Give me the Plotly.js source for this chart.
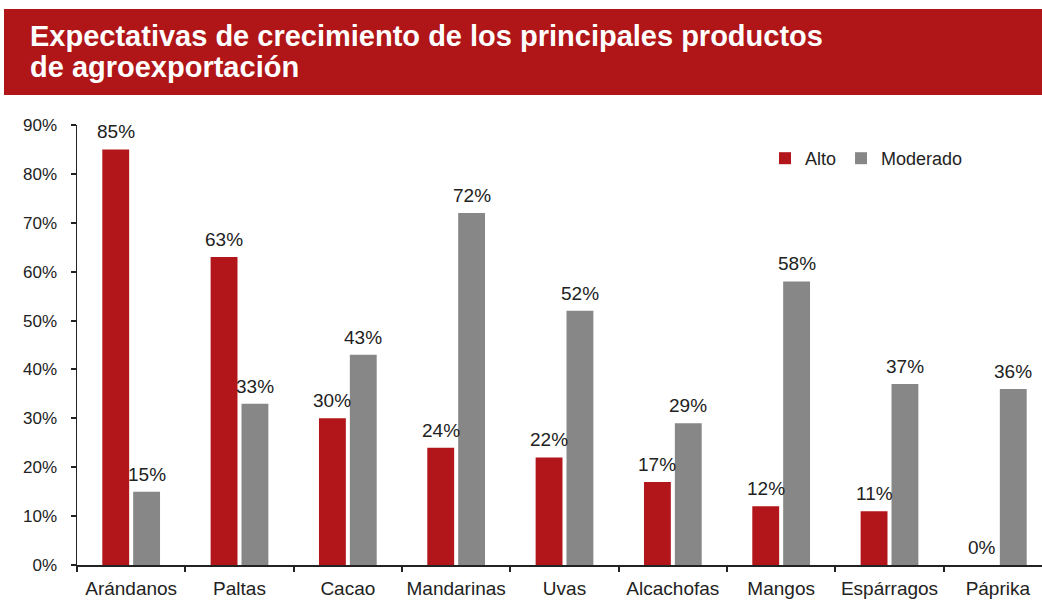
<!DOCTYPE html>
<html>
<head>
<meta charset="utf-8">
<script src="https://cdn.plot.ly/plotly-3.0.1.min.js"></script>
<style>
html,body{margin:0;padding:0;overflow:hidden;background:#fff;width:1042px;height:615px;}
#chart{width:1060px;height:615px;}
</style>
</head>
<body>
<div id="chart"></div>
<script>
const categories = ["Arándanos","Paltas","Cacao","Mandarinas","Uvas","Alcachofas","Mangos","Espárragos","Páprika"];
const alto = [0.85,0.63,0.30,0.24,0.22,0.17,0.12,0.11,0.00];
const moderado = [0.15,0.33,0.43,0.72,0.52,0.29,0.58,0.37,0.36];
const yTickVals = [0,0.1,0.2,0.3,0.4,0.5,0.6,0.7,0.8,0.9];
const yTickText = ["0%","10%","20%","30%","40%","50%","60%","70%","80%","90%"];
const titleLine1 = "Expectativas de crecimiento de los principales productos";
const titleLine2 = "de agroexportación";

const W = 1060, H = 615;
const mL = 77, mR = 8, mT = 125, mB = 50;
const plotW = W - mL - mR, plotH = H - mT - mB;
const px = x => (x - mL) / plotW;
const py = y => (H - mB - y) / plotH;

const baseFamily = "Liberation Sans, Arial, sans-serif";
const labelFont = {family: baseFamily, size: 19, color: "#222"};
const catW = plotW / categories.length;
const barOffset = catW * (1 - 0.43) / 4;

const traces = [
  {type:"bar", name:"Alto", x:categories, y:alto, marker:{color:"#B2151A"}, hoverinfo:"skip"},
  {type:"bar", name:"Moderado", x:categories, y:moderado, marker:{color:"#878787"}, hoverinfo:"skip"}
];

const fmt = v => Math.round(v * 100) + "%";
const dataLabels = [];
categories.forEach((c, i) => {
  dataLabels.push({x: c, y: alto[i], xref: "x", yref: "y", xshift: -barOffset, yshift: 5,
    yanchor: "bottom", xanchor: "center", text: fmt(alto[i]), showarrow: false, font: labelFont});
  dataLabels.push({x: c, y: moderado[i], xref: "x", yref: "y", xshift: barOffset, yshift: 5,
    yanchor: "bottom", xanchor: "center", text: fmt(moderado[i]), showarrow: false, font: labelFont});
});

const titleFont = {family: baseFamily, size: 29, color: "#fff", weight: "bold"};

const layout = {
  width: W, height: H,
  margin: {l: mL, r: mR, t: mT, b: mB, pad: 0},
  paper_bgcolor: "#fff", plot_bgcolor: "#fff",
  barmode: "group", bargap: 0.43, bargroupgap: 0.13,
  font: {family: baseFamily, color: "#222"},
  showlegend: true,
  legend: {orientation: "h", x: px(765), y: py(140), xanchor: "left", yanchor: "top",
           font: {size: 18, color: "#222"}, bgcolor: "rgba(0,0,0,0)", tracegroupgap: 0},
  xaxis: {
    type: "category", showgrid: false, zeroline: false, tickangle: 0,
    showline: true, linecolor: "#222", linewidth: 1.5,
    ticks: "outside", tickson: "boundaries", ticklen: 5, tickwidth: 2, tickcolor: "#222",
    tickfont: {size: 19, color: "#222"}, ticklabelstandoff: 6, automargin: false
  },
  yaxis: {
    range: [0, 0.9], tickvals: yTickVals, ticktext: yTickText,
    showgrid: false, zeroline: false,
    showline: true, linecolor: "#222", linewidth: 1.5,
    ticks: "outside", ticklen: 5, tickwidth: 2, tickcolor: "#222",
    tickfont: {size: 17, color: "#222"}, ticklabelstandoff: 10, automargin: false
  },
  shapes: [
    {type: "rect", xref: "paper", yref: "paper", x0: px(4), x1: px(1070), y0: py(95), y1: py(9),
     fillcolor: "#B01518", line: {width: 0}, layer: "below"}
  ],
  annotations: [
    {xref: "paper", yref: "paper", x: px(28), y: py(54), xanchor: "left", yanchor: "bottom",
     text: titleLine1, showarrow: false, align: "left", font: titleFont},
    {xref: "paper", yref: "paper", x: px(28), y: py(85), xanchor: "left", yanchor: "bottom",
     text: titleLine2, showarrow: false, align: "left", font: titleFont}
  ].concat(dataLabels)
};

Plotly.newPlot("chart", traces, layout, {displayModeBar: false, staticPlot: true});
</script>
</body>
</html>
